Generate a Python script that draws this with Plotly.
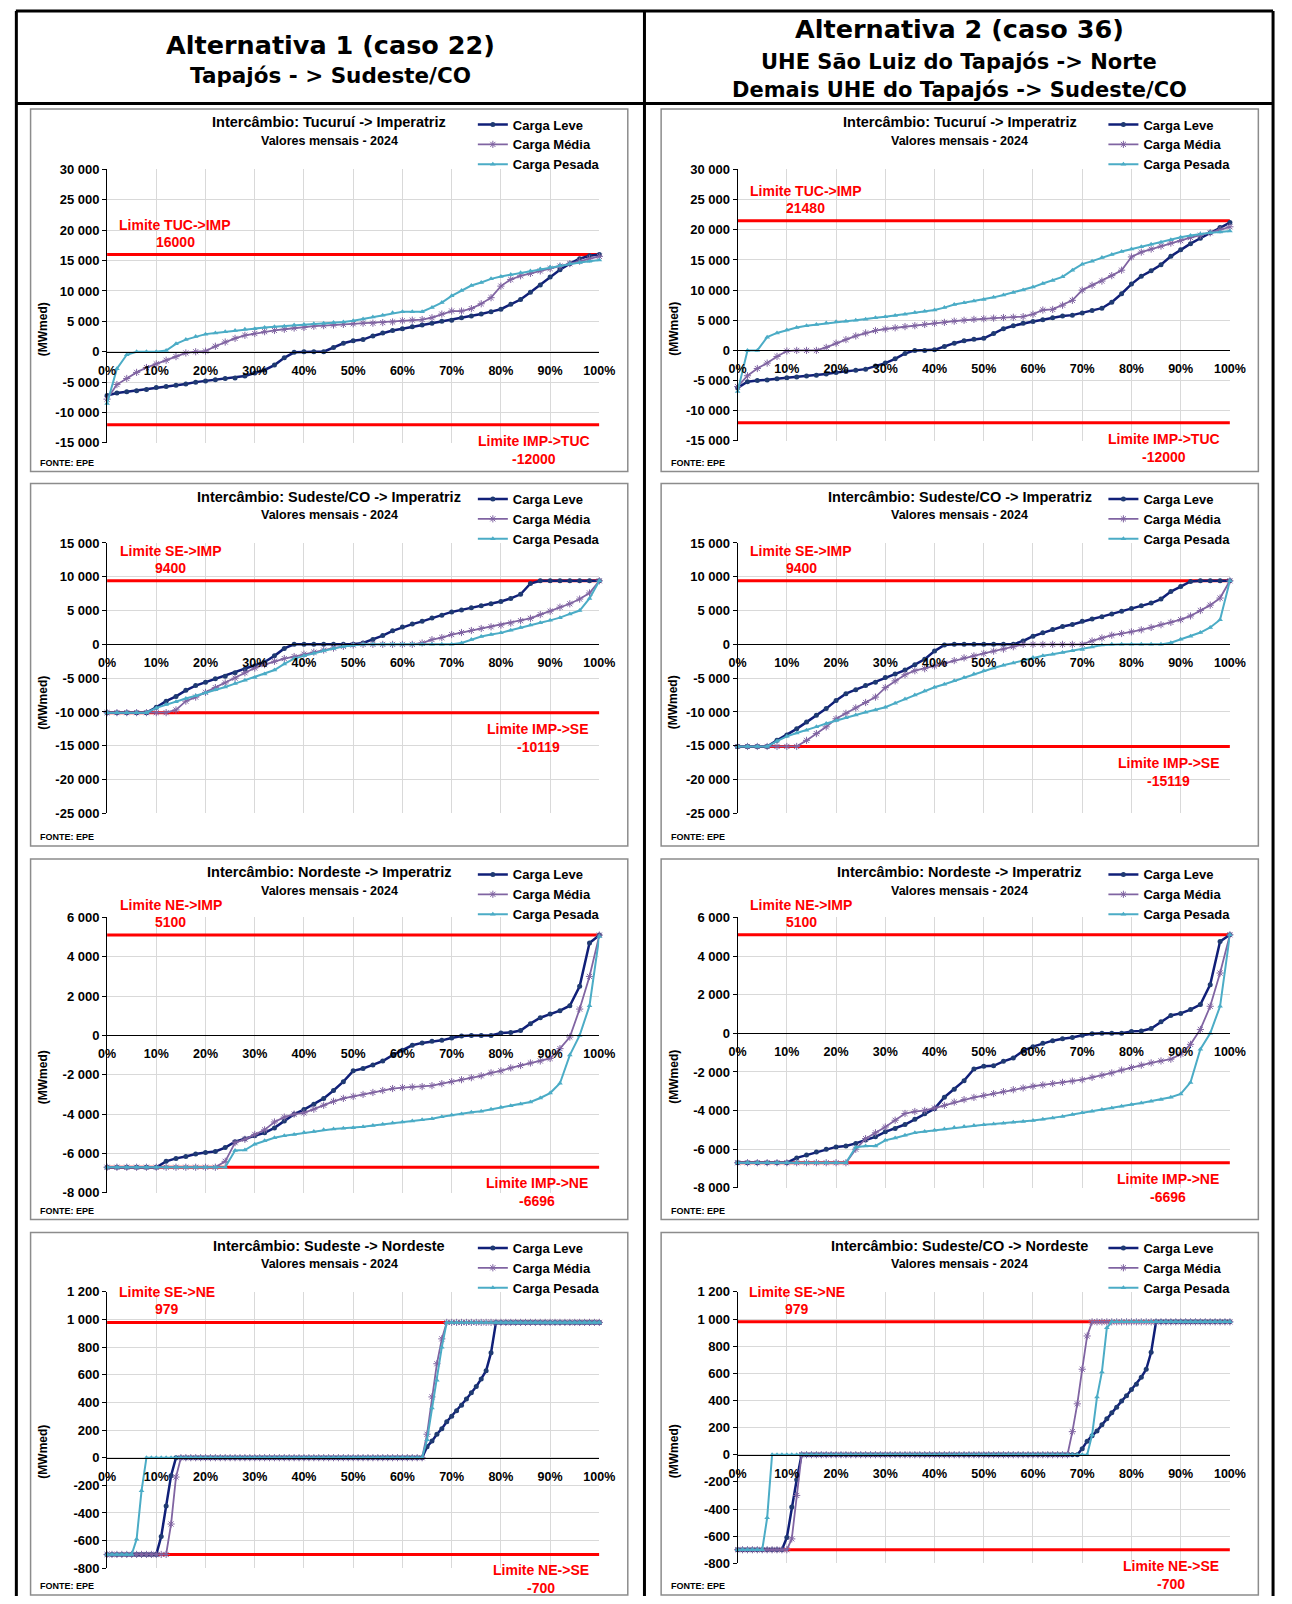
import plotly.graph_objects as go

# ---------------------------------------------------------------- data
PCT_2 = [0, 2, 4, 6, 8, 10, 12, 14, 16, 18, 20, 22, 24, 26, 28, 30, 32, 34, 36, 38,
         40, 42, 44, 46, 48, 50, 52, 54, 56, 58, 60, 62, 64, 66, 68, 70, 72, 74, 76, 78,
         80, 82, 84, 86, 88, 90, 92, 94, 96, 98, 100]
PCT_1 = [0, 1, 2, 3, 4, 5, 6, 7, 8, 9, 10, 11, 12, 13, 14, 15, 16, 17, 18, 19,
         20, 21, 22, 23, 24, 25, 26, 27, 28, 29, 30, 31, 32, 33, 34, 35, 36, 37, 38, 39,
         40, 41, 42, 43, 44, 45, 46, 47, 48, 49, 50, 51, 52, 53, 54, 55, 56, 57, 58, 59,
         60, 61, 62, 63, 64, 65, 66, 67, 68, 69, 70, 71, 72, 73, 74, 75, 76, 77, 78, 79,
         80, 81, 82, 83, 84, 85, 86, 87, 88, 89, 90, 91, 92, 93, 94, 95, 96, 97, 98, 99, 100]

X_TICKS = [0, 10, 20, 30, 40, 50, 60, 70, 80, 90, 100]
X_TICK_LABELS = ["0%", "10%", "20%", "30%", "40%", "50%", "60%", "70%", "80%", "90%", "100%"]
Y_TICKS_TUC = [-15000, -10000, -5000, 0, 5000, 10000, 15000, 20000, 25000, 30000]
Y_TICKS_SE = [-25000, -20000, -15000, -10000, -5000, 0, 5000, 10000, 15000]
Y_TICKS_NE = [-8000, -6000, -4000, -2000, 0, 2000, 4000, 6000]
Y_TICKS_SENE = [-800, -600, -400, -200, 0, 200, 400, 600, 800, 1000, 1200]

SERIES_NAMES = ["Carga Leve", "Carga Média", "Carga Pesada"]

# Tucuruí -> Imperatriz
A1_TUC_LEVE = [-7200, -6800, -6600, -6400, -6200, -5900, -5700, -5500, -5300, -5000,
               -4800, -4600, -4400, -4300, -4000, -3500, -3000, -2200, -1000, -100,
               0, 0, 0, 700, 1400, 1800, 2000, 2600, 3100, 3500,
               3800, 4100, 4400, 4700, 5000, 5200, 5600, 5900, 6200, 6600,
               7000, 7800, 8600, 9800, 11000, 12300, 13500, 14500, 15300, 15800,
               16000]
A1_TUC_MEDIA = [-7800, -5400, -4400, -3400, -2600, -2000, -1400, -800, -200, 0,
                100, 900, 1600, 2200, 2700, 3000, 3300, 3500, 3700, 3900,
                4000, 4200, 4300, 4400, 4500, 4600, 4700, 4700, 4800, 4900,
                5100, 5200, 5300, 5600, 6200, 6700, 6700, 7100, 7900, 8900,
                10800, 11900, 12500, 12900, 13300, 13700, 14100, 14500, 14900, 15300,
                15700]
A1_TUC_PESADA = [-8500, -2800, -500, 0, 0, 0, 200, 1300, 2000, 2500,
                 2900, 3100, 3300, 3500, 3700, 3800, 4000, 4100, 4200, 4400,
                 4500, 4600, 4700, 4800, 4900, 5100, 5400, 5700, 6000, 6400,
                 6600, 6600, 6600, 7300, 8100, 9200, 10100, 10900, 11400, 12000,
                 12400, 12700, 13000, 13300, 13600, 13900, 14200, 14500, 14700, 14900,
                 15100]
A2_TUC_LEVE = [-6200, -5200, -5000, -4900, -4700, -4550, -4400, -4250, -4100, -3900,
               -3650, -3500, -3300, -3100, -2600, -2100, -1400, -500, 0, 0,
               100, 650, 1200, 1600, 1850, 2000, 2800, 3600, 4100, 4500,
               4800, 5100, 5400, 5700, 5850, 6200, 6600, 7000, 8000, 9400,
               11000, 12300, 13200, 14200, 15600, 16700, 17700, 18600, 19500, 20400,
               21200]
A2_TUC_MEDIA = [-6000, -4200, -3000, -2100, -1000, -100, 0, 0, 0, 500,
                1200, 1800, 2400, 2900, 3300, 3550, 3750, 3950, 4100, 4300,
                4500, 4650, 4850, 5000, 5150, 5250, 5350, 5450, 5500, 5600,
                6000, 6700, 6800, 7500, 8300, 10000, 10800, 11500, 12400, 13300,
                15500, 16300, 16800, 17300, 17800, 18200, 18700, 19100, 19500, 20000,
                20500]
A2_TUC_PESADA = [-6800, 0, 0, 2200, 2900, 3400, 3800, 4100, 4300, 4550,
                 4750, 4850, 5000, 5150, 5400, 5600, 5800, 6000, 6300, 6500,
                 6700, 7100, 7600, 7900, 8200, 8450, 8800, 9200, 9600, 10000,
                 10500, 11100, 11600, 12200, 13300, 14300, 14800, 15400, 15900, 16400,
                 16800, 17200, 17600, 17950, 18350, 18750, 19050, 19300, 19500, 19650,
                 19800]

# Sudeste/CO -> Imperatriz
A1_SE_LEVE = [-10100, -10100, -10100, -10100, -10100, -9300, -8400, -7700, -6800, -6100,
              -5600, -5100, -4700, -4200, -3700, -3200, -2600, -1700, -600, 0,
              0, 0, 0, 0, 0, 0, 200, 700, 1300, 2000,
              2550, 3000, 3400, 3900, 4300, 4800, 5100, 5400, 5700, 6000,
              6350, 6800, 7400, 9000, 9400, 9400, 9400, 9400, 9400, 9400,
              9400]
A1_SE_MEDIA = [-10100, -10100, -10100, -10100, -10100, -10100, -10100, -9700, -8400, -7800,
               -7100, -6400, -5700, -5000, -4200, -3500, -3000, -2500, -2100, -1800,
               -1450, -1150, -850, -550, -300, -100, 0, 0, 0, 0,
               0, 0, 200, 700, 1000, 1450, 1750, 2050, 2350, 2600,
               2850, 3150, 3500, 3850, 4400, 4900, 5500, 6000, 6700, 7600,
               9400]
A1_SE_PESADA = [-10100, -10100, -10100, -10100, -10100, -9400, -8900, -8500, -8000, -7600,
                -7200, -6700, -6300, -5800, -5300, -4900, -4400, -3800, -2900, -2100,
                -1700, -1300, -900, -600, -300, -100, 0, 0, 0, 0,
                0, 0, 0, 0, 0, 0, 200, 700, 1150, 1450,
                1700, 2100, 2500, 2850, 3200, 3550, 3950, 4500, 5000, 6800,
                9400]
A2_SE_LEVE = [-15100, -15100, -15100, -15100, -14200, -13400, -12500, -11500, -10500, -9500,
              -8300, -7300, -6700, -6100, -5600, -4900, -4400, -3800, -3000, -2200,
              -1000, -100, 0, 0, 0, 0, 0, 0, 0, 500,
              1200, 1700, 2200, 2650, 2950, 3400, 3750, 4100, 4500, 4900,
              5300, 5700, 6100, 6700, 7800, 8550, 9300, 9400, 9400, 9400,
              9400]
A2_SE_MEDIA = [-15100, -15100, -15100, -15100, -15100, -15100, -15100, -14200, -13200, -12200,
               -11000, -10200, -9400, -8600, -7800, -6400, -5400, -4500, -3900, -3600,
               -3200, -2800, -2400, -2000, -1700, -1350, -1000, -700, -350, 0,
               0, 0, 0, 0, 0, 0, 500, 950, 1350, 1600,
               1850, 2150, 2500, 2900, 3250, 3650, 4200, 5000, 5800, 6850,
               9400]
A2_SE_PESADA = [-15100, -15100, -15100, -15100, -14300, -13600, -13100, -12700, -12200, -11700,
                -11250, -10850, -10450, -10050, -9700, -9300, -8700, -8100, -7500, -6900,
                -6350, -5900, -5400, -4900, -4400, -3900, -3500, -3100, -2750, -2350,
                -1950, -1700, -1450, -1200, -950, -750, -400, -100, 0, 0,
                0, 0, 0, 0, 250, 750, 1200, 1750, 2500, 3650,
                9400]

# Nordeste -> Imperatriz
A1_NE_LEVE = [-6700, -6700, -6700, -6700, -6700, -6700, -6400, -6250, -6150, -6030,
              -5950, -5900, -5700, -5400, -5250, -5100, -4950, -4700, -4350, -4000,
              -3770, -3500, -3200, -2800, -2350, -1800, -1680, -1500, -1300, -1000,
              -750, -500, -380, -300, -250, -130, -30, 0, 0, 0,
              120, 150, 250, 600, 900, 1090, 1260, 1510, 2500, 4700,
              5100]
A1_NE_MEDIA = [-6700, -6700, -6700, -6700, -6700, -6700, -6700, -6700, -6700, -6700,
               -6700, -6700, -6400, -5450, -5280, -5030, -4800, -4400, -4150, -4000,
               -3940, -3750, -3550, -3350, -3200, -3100, -3000, -2900, -2800, -2700,
               -2650, -2620, -2600, -2550, -2450, -2350, -2250, -2150, -2050, -1900,
               -1800, -1650, -1530, -1400, -1300, -1170, -670, -80, 1340, 3000,
               5100]
A1_NE_PESADA = [-6700, -6700, -6700, -6700, -6700, -6700, -6700, -6700, -6700, -6700,
                -6700, -6700, -6700, -5850, -5830, -5530, -5350, -5200, -5100, -5030,
                -4940, -4880, -4800, -4760, -4720, -4690, -4640, -4580, -4520, -4450,
                -4400, -4350, -4290, -4230, -4130, -4050, -3990, -3910, -3850, -3750,
                -3650, -3570, -3480, -3380, -3180, -2930, -2430, -1000, 0, 1510,
                5030]
A2_NE_LEVE = [-6700, -6700, -6700, -6700, -6700, -6700, -6450, -6300, -6150, -6000,
              -5880, -5830, -5700, -5520, -5360, -5100, -4930, -4720, -4450, -4160,
              -3900, -3310, -2900, -2450, -1850, -1710, -1680, -1450, -1280, -910,
              -690, -520, -380, -280, -220, -100, -20, 0, 0, 0,
              100, 120, 250, 600, 920, 1030, 1230, 1490, 2520, 4750,
              5100]
A2_NE_MEDIA = [-6700, -6700, -6700, -6700, -6700, -6700, -6700, -6700, -6700, -6700,
               -6700, -6700, -6000, -5450, -5150, -4850, -4500, -4150, -4050, -3990,
               -3870, -3730, -3560, -3430, -3320, -3220, -3120, -3020, -2920, -2830,
               -2740, -2670, -2600, -2540, -2470, -2400, -2280, -2170, -2050, -1900,
               -1770, -1650, -1530, -1430, -1340, -1080, -570, 200, 1400, 3120,
               5100]
A2_NE_PESADA = [-6700, -6700, -6700, -6700, -6700, -6700, -6700, -6700, -6700, -6700,
                -6700, -6700, -5900, -5830, -5830, -5540, -5420, -5280, -5150, -5080,
                -5020, -4950, -4880, -4820, -4770, -4730, -4700, -4660, -4610, -4560,
                -4510, -4450, -4380, -4300, -4200, -4110, -4030, -3950, -3870, -3780,
                -3690, -3610, -3520, -3430, -3310, -3140, -2540, -820, 0, 1400,
                5100]

# Sudeste -> Nordeste (1 % steps)
A1_SENE_LEVE = [-700, -700, -700, -700, -700, -700, -700, -700, -700, -700,
                -700, -570, -350, -130, 0, 0, 0, 0, 0, 0,
                0, 0, 0, 0, 0, 0, 0, 0, 0, 0,
                0, 0, 0, 0, 0, 0, 0, 0, 0, 0,
                0, 0, 0, 0, 0, 0, 0, 0, 0, 0,
                0, 0, 0, 0, 0, 0, 0, 0, 0, 0,
                0, 0, 0, 0, 0, 80, 120, 170, 210, 260,
                300, 340, 380, 425, 470, 515, 570, 630, 760, 979,
                979, 979, 979, 979, 979, 979, 979, 979, 979, 979,
                979, 979, 979, 979, 979, 979, 979, 979, 979, 979,
                979]
A1_SENE_MEDIA = [-700, -700, -700, -700, -700, -700, -700, -700, -700, -700,
                 -700, -700, -700, -480, -140, 0, 0, 0, 0, 0,
                 0, 0, 0, 0, 0, 0, 0, 0, 0, 0,
                 0, 0, 0, 0, 0, 0, 0, 0, 0, 0,
                 0, 0, 0, 0, 0, 0, 0, 0, 0, 0,
                 0, 0, 0, 0, 0, 0, 0, 0, 0, 0,
                 0, 0, 0, 0, 0, 170, 440, 680, 860, 979,
                 979, 979, 979, 979, 979, 979, 979, 979, 979, 979,
                 979, 979, 979, 979, 979, 979, 979, 979, 979, 979,
                 979, 979, 979, 979, 979, 979, 979, 979, 979, 979,
                 979]
A1_SENE_PESADA = [-700, -700, -700, -700, -700, -700, -590, -240, 0, 0,
                  0, 0, 0, 0, 0, 0, 0, 0, 0, 0,
                  0, 0, 0, 0, 0, 0, 0, 0, 0, 0,
                  0, 0, 0, 0, 0, 0, 0, 0, 0, 0,
                  0, 0, 0, 0, 0, 0, 0, 0, 0, 0,
                  0, 0, 0, 0, 0, 0, 0, 0, 0, 0,
                  0, 0, 0, 0, 0, 130, 360, 560, 800, 979,
                  979, 979, 979, 979, 979, 979, 979, 979, 979, 979,
                  979, 979, 979, 979, 979, 979, 979, 979, 979, 979,
                  979, 979, 979, 979, 979, 979, 979, 979, 979, 979,
                  979]
A2_SENE_LEVE = [-700, -700, -700, -700, -700, -700, -700, -700, -700, -700,
                -610, -385, -185, 0, 0, 0, 0, 0, 0, 0,
                0, 0, 0, 0, 0, 0, 0, 0, 0, 0,
                0, 0, 0, 0, 0, 0, 0, 0, 0, 0,
                0, 0, 0, 0, 0, 0, 0, 0, 0, 0,
                0, 0, 0, 0, 0, 0, 0, 0, 0, 0,
                0, 0, 0, 0, 0, 0, 0, 0, 0, 0,
                45, 100, 140, 175, 220, 265, 310, 350, 395, 435,
                480, 520, 570, 630, 755, 979, 979, 979, 979, 979,
                979, 979, 979, 979, 979, 979, 979, 979, 979, 979,
                979]
A2_SENE_MEDIA = [-700, -700, -700, -700, -700, -700, -700, -700, -700, -700,
                 -700, -620, -300, 0, 0, 0, 0, 0, 0, 0,
                 0, 0, 0, 0, 0, 0, 0, 0, 0, 0,
                 0, 0, 0, 0, 0, 0, 0, 0, 0, 0,
                 0, 0, 0, 0, 0, 0, 0, 0, 0, 0,
                 0, 0, 0, 0, 0, 0, 0, 0, 0, 0,
                 0, 0, 0, 0, 0, 0, 0, 0, 170, 375,
                 630, 875, 979, 979, 979, 979, 979, 979, 979, 979,
                 979, 979, 979, 979, 979, 979, 979, 979, 979, 979,
                 979, 979, 979, 979, 979, 979, 979, 979, 979, 979,
                 979]
A2_SENE_PESADA = [-700, -700, -700, -700, -700, -700, -465, 0, 0, 0,
                  0, 0, 0, 0, 0, 0, 0, 0, 0, 0,
                  0, 0, 0, 0, 0, 0, 0, 0, 0, 0,
                  0, 0, 0, 0, 0, 0, 0, 0, 0, 0,
                  0, 0, 0, 0, 0, 0, 0, 0, 0, 0,
                  0, 0, 0, 0, 0, 0, 0, 0, 0, 0,
                  0, 0, 0, 0, 0, 0, 0, 0, 0, 0,
                  0, 0, 145, 425, 610, 935, 979, 979, 979, 979,
                  979, 979, 979, 979, 979, 979, 979, 979, 979, 979,
                  979, 979, 979, 979, 979, 979, 979, 979, 979, 979,
                  979]

# transmission limits (MWmed)
LIM_TUC_IMP_A1 = 16000
LIM_TUC_IMP_A2 = 21480
LIM_IMP_TUC = -12000
LIM_SE_IMP = 9400
LIM_IMP_SE_A1 = -10119
LIM_IMP_SE_A2 = -15119
LIM_NE_IMP = 5100
LIM_IMP_NE = -6696
LIM_SE_NE = 979
LIM_NE_SE = -700

HEADERS = [["Alternativa 1 (caso 22)", "Tapajós - > Sudeste/CO"],
           ["Alternativa 2 (caso 36)", "UHE São Luiz do Tapajós -> Norte",
            "Demais UHE do Tapajós -> Sudeste/CO"]]
SUBTITLE = "Valores mensais - 2024"

# ---------------------------------------------------------------- layout
W, H = 1292, 1604
FONT = "Liberation Sans, Arial, sans-serif"
HFONT = "DejaVu Sans, Verdana, sans-serif"
NAVY_LINE = "#101f78"
NAVY_MARK = "#1f3a72"
PURPLE = "#8064a2"
CYAN = "#4bacc6"
RED = "#ff0000"
GRID = "#d9d9d9"
BOXC = "#8c8c8c"
COLORS = [(NAVY_LINE, NAVY_MARK, "circle", 5, 2.5),
          (PURPLE, PURPLE, "asterisk-open", 6, 1.8),
          (CYAN, CYAN, "triangle-up", 5, 2.0)]

COL_BOX = [(22, 631), (665, 1274)]
COL_PLOT = [(100, 602), (743, 1245)]
ROW_BOX = [(103, 469), (481, 847), (860, 1224), (1237, 1603)]
PLOT_Y = {(0, 0): (164, 440), (1, 0): (164, 438),
          (0, 1): (541, 814), (1, 1): (541, 814),
          (0, 2): (919, 1197), (1, 2): (919, 1192),
          (0, 3): (1297, 1576), (1, 3): (1297, 1571)}
TOP_LBL_X = [0.138, 0.129, 0.129, 0.121]
BOT_LBL_X = [0.867, 0.876, 0.874, 0.881]

PANELS = [
    dict(col=0, row=0, title="Intercâmbio: Tucuruí -> Imperatriz", x=PCT_2,
         ys=(A1_TUC_LEVE, A1_TUC_MEDIA, A1_TUC_PESADA), yt=Y_TICKS_TUC,
         hi=LIM_TUC_IMP_A1, lo=LIM_IMP_TUC, hl="Limite TUC->IMP", ll="Limite IMP->TUC"),
    dict(col=1, row=0, title="Intercâmbio: Tucuruí -> Imperatriz", x=PCT_2,
         ys=(A2_TUC_LEVE, A2_TUC_MEDIA, A2_TUC_PESADA), yt=Y_TICKS_TUC,
         hi=LIM_TUC_IMP_A2, lo=LIM_IMP_TUC, hl="Limite TUC->IMP", ll="Limite IMP->TUC"),
    dict(col=0, row=1, title="Intercâmbio: Sudeste/CO -> Imperatriz", x=PCT_2,
         ys=(A1_SE_LEVE, A1_SE_MEDIA, A1_SE_PESADA), yt=Y_TICKS_SE,
         hi=LIM_SE_IMP, lo=LIM_IMP_SE_A1, hl="Limite SE->IMP", ll="Limite IMP->SE"),
    dict(col=1, row=1, title="Intercâmbio: Sudeste/CO -> Imperatriz", x=PCT_2,
         ys=(A2_SE_LEVE, A2_SE_MEDIA, A2_SE_PESADA), yt=Y_TICKS_SE,
         hi=LIM_SE_IMP, lo=LIM_IMP_SE_A2, hl="Limite SE->IMP", ll="Limite IMP->SE"),
    dict(col=0, row=2, title="Intercâmbio: Nordeste -> Imperatriz", x=PCT_2,
         ys=(A1_NE_LEVE, A1_NE_MEDIA, A1_NE_PESADA), yt=Y_TICKS_NE,
         hi=LIM_NE_IMP, lo=LIM_IMP_NE, hl="Limite NE->IMP", ll="Limite IMP->NE"),
    dict(col=1, row=2, title="Intercâmbio: Nordeste -> Imperatriz", x=PCT_2,
         ys=(A2_NE_LEVE, A2_NE_MEDIA, A2_NE_PESADA), yt=Y_TICKS_NE,
         hi=LIM_NE_IMP, lo=LIM_IMP_NE, hl="Limite NE->IMP", ll="Limite IMP->NE"),
    dict(col=0, row=3, title="Intercâmbio: Sudeste -> Nordeste", x=PCT_1,
         ys=(A1_SENE_LEVE, A1_SENE_MEDIA, A1_SENE_PESADA), yt=Y_TICKS_SENE,
         hi=LIM_SE_NE, lo=LIM_NE_SE, hl="Limite SE->NE", ll="Limite NE->SE"),
    dict(col=1, row=3, title="Intercâmbio: Sudeste/CO -> Nordeste", x=PCT_1,
         ys=(A2_SENE_LEVE, A2_SENE_MEDIA, A2_SENE_PESADA), yt=Y_TICKS_SENE,
         hi=LIM_SE_NE, lo=LIM_NE_SE, hl="Limite SE->NE", ll="Limite NE->SE"),
]


def fx(px):
    return px / W


def fy(py):
    return 1 - py / H


def fmt(v):
    s = f"{abs(v):,}".replace(",", " ")
    return ("-" if v < 0 else "") + s


def bold(size, color="black", family=FONT):
    return dict(family=family, size=size, color=color, weight="bold")


fig = go.Figure()
layout = dict(width=W, height=H, margin=dict(l=0, r=0, t=0, b=0),
              paper_bgcolor="white", plot_bgcolor="white", showlegend=True)
annotations = []
shapes = []

for i, p in enumerate(PANELS, start=1):
    sfx = "" if i == 1 else str(i)
    col, row = p["col"], p["row"]
    bx0, bx1 = COL_BOX[col]
    by0, by1 = ROW_BOX[row]
    px0, px1 = COL_PLOT[col]
    py0, py1 = PLOT_Y[(col, row)]
    ymin, ymax = p["yt"][0], p["yt"][-1]
    dom_y = [fy(py1), fy(py0)]
    zero_pos = dom_y[0] + (0 - ymin) / (ymax - ymin) * (dom_y[1] - dom_y[0])
    xa, ya = "x" + sfx, "y" + sfx
    leg = "legend" + sfx

    layout["xaxis" + sfx] = dict(
        domain=[fx(px0), fx(px1)], range=[0, 100], tickvals=X_TICKS, ticktext=X_TICK_LABELS,
        showgrid=True, gridcolor=GRID, gridwidth=1, showline=True, linecolor="black",
        linewidth=1, anchor="free", position=zero_pos, ticks="outside", ticklen=7,
        tickcolor="rgba(0,0,0,0)", tickfont=bold(12.5), zeroline=False, layer="above traces")
    layout["yaxis" + sfx] = dict(
        domain=dom_y, range=[ymin, ymax], tickvals=p["yt"], ticktext=[fmt(v) for v in p["yt"]],
        showgrid=True, gridcolor=GRID, gridwidth=1, showline=True, linecolor="black",
        linewidth=1, ticks="outside", ticklen=4, tickcolor="black", anchor=xa,
        tickfont=bold(13), zeroline=False)

    # limit lines
    for lim in (p["hi"], p["lo"]):
        fig.add_trace(go.Scatter(x=[0, 100], y=[lim, lim], mode="lines",
                                 line=dict(color=RED, width=3), showlegend=False,
                                 hoverinfo="skip", xaxis=xa, yaxis=ya))
    # series
    for name, yv, (lc, mc, sym, ms, lw) in zip(SERIES_NAMES, p["ys"], COLORS):
        mk = dict(symbol=sym, size=ms, color=mc)
        if sym == "asterisk-open":
            mk["line"] = dict(color=mc, width=1)
        fig.add_trace(go.Scatter(x=p["x"], y=yv, mode="lines+markers", name=name,
                                 line=dict(color=lc, width=lw), marker=mk,
                                 cliponaxis=False, legend=leg, xaxis=xa, yaxis=ya))

    layout[leg] = dict(x=fx(bx0 + 451), y=fy(by0 + 0.5), xanchor="left", yanchor="top",
                       bgcolor="rgba(0,0,0,0)", font=bold(13), itemwidth=30,
                       tracegroupgap=0, traceorder="normal")

    # panel box
    shapes.append(dict(type="rect", xref="paper", yref="paper",
                       x0=fx(bx0), x1=fx(bx1), y0=fy(by1), y1=fy(by0),
                       line=dict(color=BOXC, width=1.5), layer="below"))

    cx = (bx0 + bx1) / 2
    annotations += [
        dict(text=p["title"], x=fx(cx), y=fy(by0 + 13.5), xref="paper", yref="paper",
             showarrow=False, xanchor="center", yanchor="middle", font=bold(14.5)),
        dict(text=SUBTITLE, x=fx(cx), y=fy(by0 + 32), xref="paper", yref="paper",
             showarrow=False, xanchor="center", yanchor="middle", font=bold(12.5)),
        dict(text="(MWmed)", x=fx(px0 - 65), y=fy(py0 + 161), xref="paper", yref="paper",
             showarrow=False, textangle=-90, xanchor="center", yanchor="middle",
             font=bold(12)),
        dict(text="FONTE: EPE", x=fx(bx0 + 8), y=fy(by1 - 9), xref="paper", yref="paper",
             showarrow=False, xanchor="left", yanchor="middle", font=bold(9)),
    ]
    # limit labels
    dref = xa + " domain"
    tx, bxl = TOP_LBL_X[row], BOT_LBL_X[row]
    annotations += [
        dict(text=p["hl"], x=tx, y=p["hi"], xref=dref, yref=ya, yshift=30,
             showarrow=False, xanchor="center", yanchor="middle", font=bold(14, RED)),
        dict(text=str(p["hi"]), x=tx, y=p["hi"], xref=dref, yref=ya, yshift=13,
             showarrow=False, xanchor="center", yanchor="middle", font=bold(14, RED)),
        dict(text=p["ll"], x=bxl, y=p["lo"], xref=dref, yref=ya, yshift=-16,
             showarrow=False, xanchor="center", yanchor="middle", font=bold(14, RED)),
        dict(text=str(p["lo"]), x=bxl, y=p["lo"], xref=dref, yref=ya, yshift=-34,
             showarrow=False, xanchor="center", yanchor="middle", font=bold(14, RED)),
    ]

# header table
HEAD_Y = [[38, 69], [22.5, 56, 84]]
HEAD_SIZE = [[25.5, 21.5], [25.5, 21, 21]]
HEAD_CX = [327.5, 969]
for c in range(2):
    for t, yy, sz in zip(HEADERS[c], HEAD_Y[c], HEAD_SIZE[c]):
        annotations.append(dict(text=t, x=fx(HEAD_CX[c]), y=fy(yy), xref="paper", yref="paper",
                                showarrow=False, xanchor="center", yanchor="middle",
                                font=bold(sz, family=HFONT)))

for (x0, y0, x1, y1) in [(7, 4, 1289, 4), (7, 97.5, 1289, 97.5), (7.5, 4, 7.5, 1604),
                         (648, 4, 648, 1604), (1289, 4, 1289, 1604)]:
    shapes.append(dict(type="line", xref="paper", yref="paper", x0=fx(x0), x1=fx(x1),
                       y0=fy(y0), y1=fy(y1), line=dict(color="black", width=3)))

layout["annotations"] = annotations
layout["shapes"] = shapes
fig.update_layout(**layout)
fig.write_html("out.html", config={"displayModeBar": False},
               post_script="document.body.style.margin='0px';"
                           "document.body.style.overflow='hidden';")
